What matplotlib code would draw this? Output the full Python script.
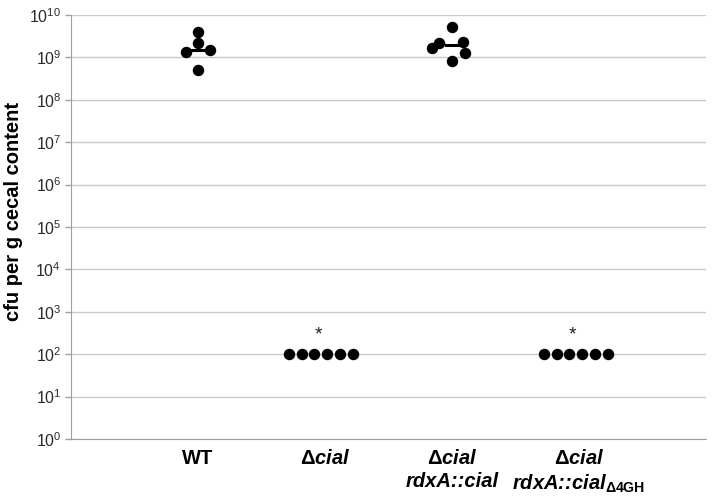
import numpy as np
import matplotlib
matplotlib.use("Agg")
import matplotlib.pyplot as plt

plt.rcParams['font.family'] = ['Liberation Sans', 'DejaVu Sans']
plt.rcParams['mathtext.fontset'] = 'custom'
plt.rcParams['mathtext.rm'] = 'Liberation Sans'
plt.rcParams['mathtext.bf'] = 'Liberation Sans:bold'
plt.rcParams['mathtext.it'] = 'Liberation Sans:italic'

# Data (cfu per g cecal content)
groups = ['WT', 'dcial', 'dcial_rdxA_cial', 'dcial_rdxA_cial_d4GH']
tick_labels = [
    'WT',
    r'$\mathbf{\Delta}$cial',
    '$\\mathbf{\\Delta}$cial\nrdxA::cial',
    '$\\mathbf{\\Delta}$cial\nrdxA::cial$_{\\mathbf{\\Delta 4GH}}$',
]
wt_values = [4.0e9, 2.2e9, 1.35e9, 1.5e9, 5.0e8]
wt_offsets = [0.0, 0.0, -0.095, 0.095, 0.0]
dcial_values = [1e2, 1e2, 1e2, 1e2, 1e2, 1e2]
dcial_offsets = [-0.28, -0.18, -0.085, 0.018, 0.12, 0.22]
comp_values = [5.2e9, 2.2e9, 1.66e9, 2.3e9, 1.26e9, 8.2e8]
comp_offsets = [0.0, -0.10, -0.16, 0.087, 0.10, 0.0]
d4gh_values = [1e2, 1e2, 1e2, 1e2, 1e2, 1e2]
d4gh_offsets = [-0.274, -0.174, -0.08, 0.024, 0.126, 0.226]
significant = [False, True, False, True]

all_values = [wt_values, dcial_values, comp_values, d4gh_values]
all_offsets = [wt_offsets, dcial_offsets, comp_offsets, d4gh_offsets]

fig = plt.figure(figsize=(7.14, 4.98), dpi=100)
ax = fig.add_axes([71 / 714, 1 - 439 / 498, 635 / 714, 424 / 498])

ax.set_yscale('log')
ax.set_ylim(1, 1e10)
ax.set_xlim(0, 5)
ax.set_yticks([10.0**k for k in range(11)])
ax.set_yticklabels([r'$\mathregular{10^{%d}}$' % k for k in range(11)])
ax.minorticks_off()
ax.yaxis.grid(True, color='#c8c8c8', linewidth=1.0)
ax.set_axisbelow(True)

for i, (vals, offs) in enumerate(zip(all_values, all_offsets)):
    xc = i + 1
    xs = [xc + o for o in offs]
    ax.scatter(xs, vals, s=68, color='black', zorder=3, linewidths=0)
    if not significant[i]:
        med = np.median(vals)
        ax.plot([xc - 0.045, xc + 0.045], [med, med], color='black', lw=2.2, zorder=3)
    else:
        ax.text(xc - 0.05, np.max(vals) * 10**0.45, '*', ha='center', va='center',
                fontsize=14, color='#222222')

ax.set_xticks([1, 2, 3, 4])
ax.set_xticklabels(tick_labels)
for j, lab in enumerate(ax.get_xticklabels()):
    lab.set_fontweight('bold')
    lab.set_fontsize(14.5)
    lab.set_linespacing(1.3)
    if j > 0:
        lab.set_fontstyle('italic')
ax.tick_params(axis='x', length=0, pad=7, colors='black')
ax.tick_params(axis='y', length=4, width=1, color='#a0a0a0', labelsize=11.5, labelcolor='#2a2a2a', pad=3)

for s in ['top', 'right']:
    ax.spines[s].set_visible(False)
ax.spines['left'].set_color('#a0a0a0')
ax.spines['bottom'].set_color('#a0a0a0')

ax.set_ylabel('cfu per g cecal content', fontsize=14.5, fontweight='bold')
ax.yaxis.set_label_coords(-48 / 635, (439 - 211.5) / 424)

fig.savefig('out.png', dpi=100)
